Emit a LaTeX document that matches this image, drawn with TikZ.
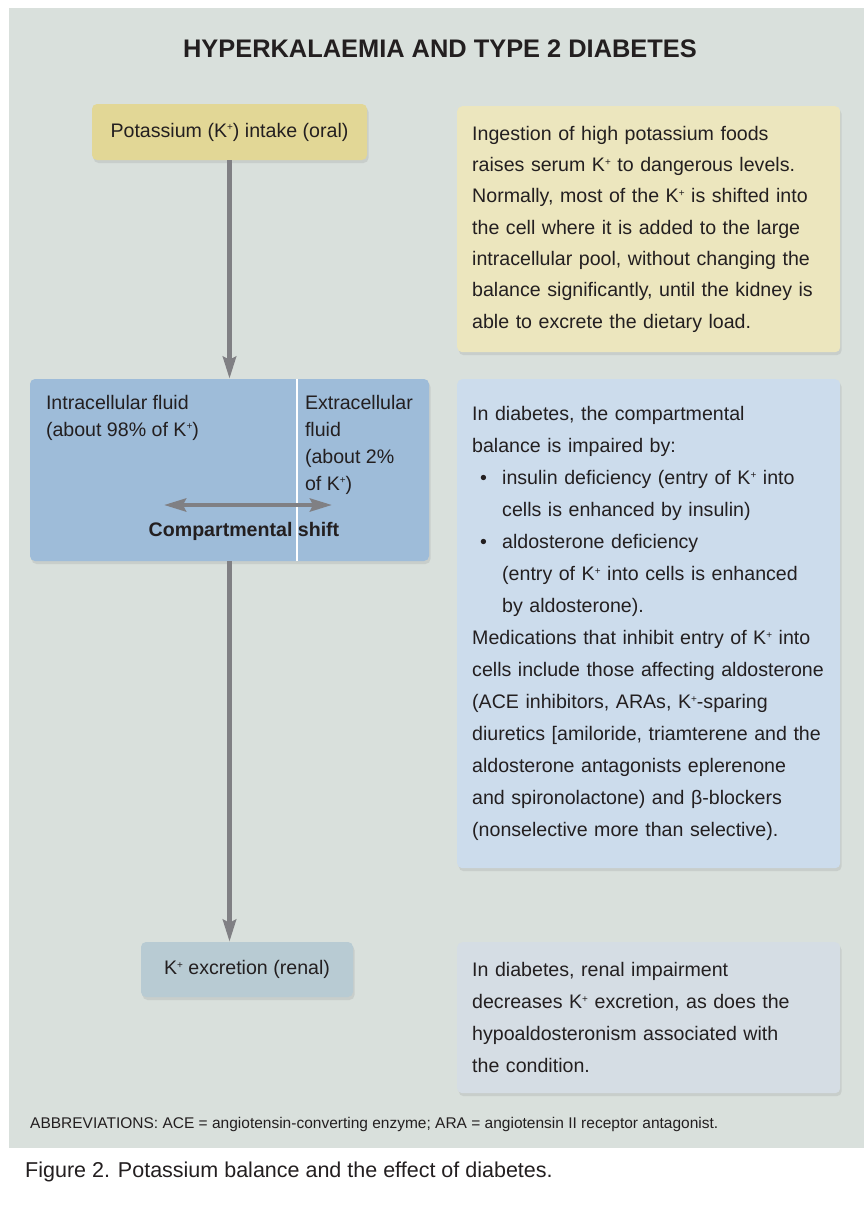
\documentclass[tikz,border=0pt]{standalone}
\usepackage{fontspec}
\setmainfont{Liberation Sans}
\usetikzlibrary{arrows.meta,positioning,calc,shadows}
\definecolor{panel}{HTML}{D9E0DC}
\definecolor{intakefill}{HTML}{E2D796}
\definecolor{intakepale}{HTML}{ECE6BE}
\definecolor{fluidfill}{HTML}{9EBCD9}
\definecolor{fluidpale}{HTML}{CCDCEC}
\definecolor{renalfill}{HTML}{B8CBD3}
\definecolor{renalpale}{HTML}{D5DDE4}
\definecolor{arrowgray}{HTML}{808084}
\definecolor{ink}{HTML}{231F20}
\newcommand{\kplus}{K\raisebox{0.62ex}{\fontsize{10}{10}\selectfont+}}
\newcommand{\bulletline}{\makebox[30pt][l]{\hspace{8pt}•}}

\begin{document}
\begin{tikzpicture}[x=1pt,y=-1pt,>={Stealth[length=22pt,width=13pt,inset=3pt]},
  every node/.style={font=\fontsize{19.6}{32}\selectfont,text=ink,inner sep=0pt},
  box/.style={rounded corners=5pt,inner sep=0pt,
    drop shadow={opacity=0.18,shadow xshift=1.5pt,shadow yshift=-3pt}},
  notebox/.style={box,anchor=north west,inner xsep=15pt,text width=353pt,align=left},
  flow/.style={->,line width=5pt,arrowgray}]
  \useasboundingbox (0,0) rectangle (864,1211);
  \fill[white] (0,0) rectangle (864,1211);
  \fill[panel] (9,8) rectangle (864,1148);

  \node[font=\fontsize{25.4}{28}\selectfont\bfseries] (title) at (440,49) {HYPERKALAEMIA AND TYPE 2 DIABETES};

  % left column
  \node[box,fill=intakefill,minimum width=275pt,minimum height=56pt] (intake) at (229.5,132) {Potassium (\kplus) intake (oral)};
  \node[box,fill=fluidfill,minimum width=399pt,minimum height=182pt] (fluid) at (229.5,470) {};
  \node[box,fill=renalfill,minimum width=212pt,minimum height=55pt] (excretion) at (247,969.5) {\kplus{} excretion (renal)};

  \draw[white,line width=1.5pt] ($(fluid.north west)!0.669!(fluid.north east)$) -- ($(fluid.south west)!0.669!(fluid.south east)$);
  \node[anchor=north west,align=left,font=\fontsize{19.6}{27}\selectfont] (icf) at ($(fluid.north west)+(16,16)$) {Intracellular fluid\\(about 98\% of \kplus)};
  \node[anchor=north west,align=left,font=\fontsize{19.6}{27}\selectfont] (ecf) at ($(fluid.north west)+(275,16)$) {Extracellular\\fluid\\(about 2\%\\of \kplus)};
  \coordinate (shiftleft) at (164,505);
  \coordinate (shiftright) at (332,505);
  \draw[<->,line width=4pt,arrowgray] (shiftleft) -- (shiftright);
  \node[font=\fontsize{19.6}{24}\selectfont\bfseries] (shift) at (244,531) {Compartmental shift};

  \draw[flow] (intake) -- (fluid);
  \draw[flow] (fluid.south) -- (fluid.south |- excretion.north);

  % right column
  \node[notebox,fill=intakepale,minimum height=246pt,font=\fontsize{19.6}{31.3}\selectfont] (intakenote) at (457,106) {%
    Ingestion of high potassium foods\\
    raises serum \kplus{} to dangerous levels.\\
    Normally, most of the \kplus{} is shifted into\\
    the cell where it is added to the large\\
    intracellular pool, without changing the\\
    balance significantly, until the kidney is\\
    able to excrete the dietary load.};
  \node[notebox,fill=fluidpale,minimum height=489pt] (fluidnote) at (457,379) {%
    In diabetes, the compartmental\\
    balance is impaired by:\\
    \bulletline insulin deficiency (entry of \kplus{} into\\
    \hspace*{30pt}cells is enhanced by insulin)\\
    \bulletline aldosterone deficiency\\
    \hspace*{30pt}(entry of \kplus{} into cells is enhanced\\
    \hspace*{30pt}by aldosterone).\\
    Medications that inhibit entry of \kplus{} into\\
    cells include those affecting aldosterone\\
    (ACE inhibitors, ARAs, \kplus-sparing\\
    diuretics [amiloride, triamterene and the\\
    aldosterone antagonists eplerenone\\
    and spironolactone) and β-blockers\\
    (nonselective more than selective).};
  \node[notebox,fill=renalpale,minimum height=151pt] (renalnote) at (457,942) {%
    In diabetes, renal impairment\\
    decreases \kplus{} excretion, as does the\\
    hypoaldosteronism associated with\\
    the condition.};

  \node[anchor=west,font=\fontsize{15.5}{18}\selectfont] (abbrev) at (30,1124) {ABBREVIATIONS: ACE = angiotensin-converting enzyme; ARA = angiotensin II receptor antagonist.};
  \node[anchor=west,font=\fontsize{21.5}{26}\selectfont] (caption) at (25,1172) {Figure 2. Potassium balance and the effect of diabetes.};
\end{tikzpicture}
\end{document}
